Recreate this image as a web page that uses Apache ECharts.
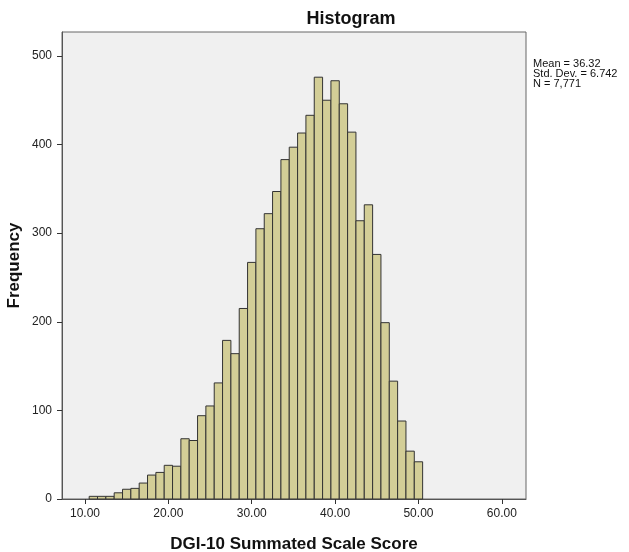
<!DOCTYPE html>
<html>
<head>
<meta charset="utf-8">
<script src="https://cdn.jsdelivr.net/npm/echarts@6/dist/echarts.min.js"></script>
<style>
html,body{margin:0;padding:0;background:#fff;}
#chart{width:629px;height:552px;}
</style>
</head>
<body>
<div id="chart"></div>
<script>
// Histogram bins (centers) and frequencies
const binCenters = [11,12,13,14,15,16,17,18,19,20,21,22,23,24,25,26,27,28,29,30,31,32,33,34,35,36,37,38,39,40,41,42,43,44,45,46,47,48,49,50];
const frequencies = [3,3,3,7,11,12,18,27,30,38,37,68,66,94,105,131,179,164,215,267,305,322,347,383,397,413,433,476,450,472,446,414,314,332,276,199,133,88,54,42];
const binWidth = 1;
const xTicks = [10,20,30,40,50,60];
const yTicks = [0,100,200,300,400,500];
const statsLines = ['Mean = 36.32', 'Std. Dev. = 6.742', 'N = 7,771'];
const titleText = 'Histogram';
const xTitle = 'DGI-10 Summated Scale Score';
const yTitle = 'Frequency';

const data = binCenters.map((c, i) => [c, frequencies[i]]);
const FONT = '"Liberation Sans", Arial, sans-serif';

const chart = echarts.init(document.getElementById('chart'), null, {renderer: 'canvas'});
chart.setOption({
  backgroundColor: '#ffffff',
  animation: false,
  title: {
    text: titleText,
    left: 346,
    top: 5,
    textAlign: 'center',
    textStyle: {fontFamily: FONT, fontSize: 18, fontWeight: 'bold', color: '#111'}
  },
  grid: {
    left: 62, right: 103, top: 32, bottom: 53,
    outerBoundsMode: 'none',
    containLabel: false,
    show: true,
    backgroundColor: '#F0F0F0',
    borderColor: '#666666',
    borderWidth: 1
  },
  xAxis: {
    type: 'value',
    min: 7.24,
    max: 62.9,
    name: xTitle,
    nameLocation: 'middle',
    nameGap: 37,
    nameMoveOverlap: false,
    nameTextStyle: {fontFamily: FONT, fontSize: 17, fontWeight: 'bold', color: '#111'},
    axisLine: {show: true, lineStyle: {color: '#555', width: 1}},
    axisTick: {show: true, length: 5, lineStyle: {color: '#333'}, customValues: xTicks},
    axisLabel: {
      show: true, margin: 9, fontFamily: FONT, fontSize: 12, color: '#222',
      customValues: xTicks,
      formatter: v => Number(v).toFixed(2)
    },
    splitLine: {show: false}
  },
  yAxis: {
    type: 'value',
    min: 0,
    max: 527,
    name: yTitle,
    nameLocation: 'middle',
    nameGap: 39,
    nameMoveOverlap: false,
    nameRotate: 90,
    nameTextStyle: {fontFamily: FONT, fontSize: 17, fontWeight: 'bold', color: '#111'},
    axisLine: {show: true, lineStyle: {color: '#555', width: 1}},
    axisTick: {show: true, length: 5, lineStyle: {color: '#333'}, customValues: yTicks},
    axisLabel: {
      show: true, margin: 10, fontFamily: FONT, fontSize: 12, color: '#222',
      customValues: yTicks
    },
    splitLine: {show: false}
  },
  graphic: [{
    type: 'text',
    left: 533,
    top: 58,
    style: {
      text: statsLines.join('\n'),
      font: '11px ' + FONT,
      fill: '#111',
      lineHeight: 10
    }
  }],
  series: [{
    type: 'custom',
    data: data,
    encode: {x: 0, y: 1},
    renderItem: function (params, api) {
      const c = api.value(0), f = api.value(1);
      const p0 = api.coord([c - binWidth / 2, 0]);
      const p1 = api.coord([c + binWidth / 2, f]);
      return {
        type: 'rect',
        shape: {x: p0[0], y: p1[1], width: p1[0] - p0[0], height: p0[1] - p1[1]},
        style: {fill: '#D3CE97', stroke: '#333333', lineWidth: 1}
      };
    }
  }]
});
</script>
</body>
</html>
